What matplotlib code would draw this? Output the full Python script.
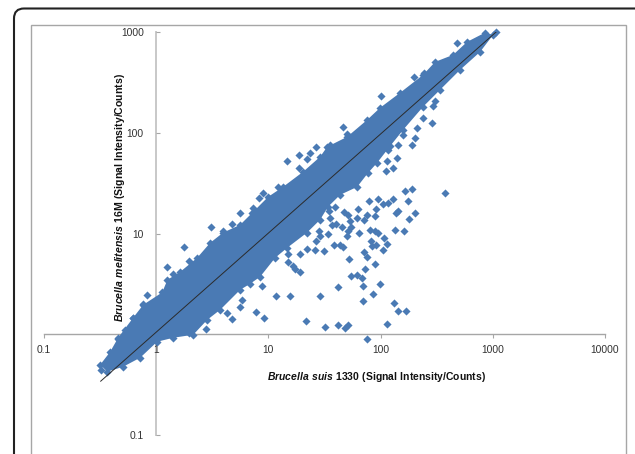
"""Brucella suis vs B. melitensis signal intensity scatter, log-log axes crossing at 1."""
import matplotlib
matplotlib.use("Agg")
import matplotlib.pyplot as plt
from matplotlib.patches import FancyBboxPatch, Rectangle

plt.rcParams["font.family"] = ["Liberation Sans", "DejaVu Sans"]
plt.rcParams["mathtext.fontset"] = "custom"
plt.rcParams["mathtext.rm"] = "Liberation Sans"
plt.rcParams["mathtext.bf"] = "Liberation Sans:bold"
plt.rcParams["mathtext.bfit"] = "Liberation Sans:italic:bold"

W, H = 635, 454
BLUE = "#4a7ab4"
TICKS = [0.1, 1, 10, 100, 1000, 10000]
TICK_LABELS = ["0.1", "1", "10", "100", "1000", "10000"]
YTICKS = [0.1, 1, 10, 100, 1000]
YTICK_LABELS = ["0.1", "1", "10", "100", "1000"]

# dense band: upper and lower edge
hi_x = [0.317, 0.389, 0.458, 0.624, 0.766, 1.13, 1.26, 1.64, 2.32, 3.03, 3.95, 5.6, 7.16, 9.95,
        13.5, 20.4, 28.9, 33.4, 50.3, 75.8, 99, 149, 239, 306, 443, 590, 853]
hi_y = [0.498, 0.67, 0.923, 1.46, 1.96, 2.6, 3.47, 4.17, 5.74, 8.09, 10.2, 12.2, 16, 23.1,
        29, 41, 57.7, 72.5, 91, 134, 177, 249, 375, 505, 593, 798, 985]
lo_x = [0.366, 0.508, 0.72, 1.02, 1.42, 2.14, 2.85, 3.72, 5.6, 6.88, 8.44, 11.5, 14.7, 22.1, 28.9,
        34, 43.6, 61.8, 77.4, 93, 122, 159, 239, 339, 511, 770, 1005]
lo_y = [0.425, 0.476, 0.585, 0.843, 0.923, 0.989, 1.39, 1.75, 2.76, 3.17, 3.72, 5.74, 7.21, 10.2, 13.7,
        18.4, 24.2, 29, 40, 50.2, 74, 107, 181, 267, 421, 634, 935]

# points that stand apart from the band
out_x = [189, 165, 175, 204, 179, 134, 160, 142, 136, 108, 115, 106, 89, 73, 76, 71, 83, 91,
         81, 89, 94, 82, 64, 71, 76, 89, 91, 79, 94, 104, 117, 130, 55, 62, 68, 70, 99, 85,
         70, 131, 142, 170, 114, 75, 51, 48, 42, 32, 21.5, 9.2, 7.7, 11.6, 15.7, 28.7, 42, 52,
         38.5, 43.5, 46, 31, 26, 22, 19.3, 14.9, 15.1, 16.5, 17.3, 19.3, 8.7, 5.8, 26.4, 28.9,
         33.8, 28.3, 49.9, 55, 51.6, 63, 62, 51.6, 47.5, 39, 34.8, 35.5, 36.7, 39.8, 45, 53.5,
         376, 0.32, 0.766, 0.62, 0.46, 0.53, 2.79, 1.97, 4.75, 5.6, 4.3,
         1.78, 1.25, 0.83, 1.42, 1.97, 3.09, 3.95, 4.75, 5.6, 7.31, 8.27, 8.98, 12.2,
         14.7, 18.8, 23.5, 26.6, 22.1, 18.8, 101, 46.3, 50.3, 35.5,
         211, 203, 191, 159, 143, 117, 140, 114, 129, 112,
         481, 199, 244, 306, 294, 239, 288, 1071]
out_y = [27.5, 26.3, 21.1, 15.8, 14.0, 10.9, 10.7, 16.9, 15.9, 9.0, 7.9, 6.8, 5.0, 4.47, 5.83,
         6.6, 7.55, 7.7, 10.9, 10.5, 10.1, 8.5, 10.1, 13.7, 15.3, 14.8, 17.6, 20.8, 22.1, 19.5,
         20, 21.9, 3.75, 3.89, 3.61, 2.98, 3.15, 2.51, 2.12, 2.02, 1.72, 1.72, 1.26, 0.90, 1.24,
         1.15, 1.24, 1.17, 1.34, 1.45, 1.65, 2.41, 2.41, 2.37, 2.94, 5.57, 7.67, 7.7, 7.33,
         6.64, 6.8, 7.05, 6.24, 6.28, 5.2, 4.71, 4.44, 4.17, 3.03, 2.2, 8.47, 9.35, 9.86, 10.6,
         9.5, 11.6, 10.6, 17.5, 14.2, 15.3, 16.3, 18.5, 16.9, 14.2, 12.2, 12.4, 11.5, 13.2,
         25.3, 0.445, 2.0, 1.46, 0.90, 1.11, 1.13, 1.03, 1.43, 1.87, 1.63,
         7.38, 4.67, 2.47, 3.98, 5.36, 11.6, 10.6, 12.5, 16, 18, 22.6, 25.3, 29,
         52.6, 60.4, 63.2, 72.5, 55, 44.9, 232, 114, 97.5, 75.9,
         112, 89, 75.9, 95, 75.9, 67.6, 56.4, 52.6, 44.9, 41.9,
         780, 359, 393, 207, 185, 141, 125, 1000]

fit_x = [0.32, 1070]
fit_y = [0.342, 1000]

fig = plt.figure(figsize=(W / 100, H / 100), dpi=100)

# page frame, in pixel units
bg = fig.add_axes([0, 0, 1, 1], zorder=0)
bg.set_xlim(0, W)
bg.set_ylim(H, 0)
bg.axis("off")
bg.add_patch(FancyBboxPatch((14, 8.5), 660, 500, boxstyle="round,pad=0,rounding_size=10",
                            fc="white", ec="#222222", lw=1.5))
bg.add_patch(Rectangle((30.5, 24.5), 595, 460, fc="white", ec="#a6a6a6", lw=1))

ax = fig.add_axes([44 / W, 1 - 435 / H, (605 - 44) / W, (435 - 32) / H], zorder=1)
ax.patch.set_visible(False)
ax.set_xscale("log")
ax.set_yscale("log")
ax.set_xlim(0.1, 10000)
ax.set_ylim(0.1, 1000)

ax.fill(hi_x + lo_x[::-1], hi_y + lo_y[::-1], color=BLUE, lw=0, zorder=2, clip_on=False)
for xs, ys in [(hi_x, hi_y), (lo_x, lo_y), (out_x, out_y)]:
    ax.scatter(xs, ys, s=17, marker="D", color=BLUE, lw=0, zorder=2, clip_on=False)
ax.plot(fit_x, fit_y, color="#2b2b2b", lw=0.7, zorder=3)

ax.spines["top"].set_visible(False)
ax.spines["right"].set_visible(False)
ax.spines["left"].set_position(("data", 1))
ax.spines["bottom"].set_position(("data", 1))
ax.spines["left"].set_color("#c8c8c8")
ax.spines["left"].set_linewidth(1.4)
ax.spines["bottom"].set_color("#a6a6a6")
ax.spines["bottom"].set_linewidth(1)
ax.spines["left"].set_zorder(1)
ax.spines["bottom"].set_zorder(1)

ax.set_xticks(TICKS)
ax.set_xticklabels(TICK_LABELS)
ax.set_yticks(YTICKS)
ax.set_yticklabels(YTICK_LABELS)
ax.minorticks_off()
ax.tick_params(axis="x", direction="out", length=3, width=0.8, color="#a6a6a6",
               labelsize=7.4, labelcolor="#333333", pad=5)
ax.tick_params(axis="y", direction="in", length=3, width=0.8, color="#a6a6a6",
               labelsize=7.4, labelcolor="#333333", pad=9)

fig.text(376 / W, 1 - 377 / H,
         r"$\mathbfit{Brucella\ suis}\ \mathbf{1330\ (Signal\ Intensity/Counts)}$",
         ha="center", va="center", fontsize=7.45, color="#111111", zorder=5)
fig.text(120 / W, 1 - 198 / H,
         r"$\mathbfit{Brucella\ melitensis}\ \mathbf{16M\ (Signal\ Intensity/Counts)}$",
         ha="center", va="center", rotation=90, fontsize=7.6, color="#111111", zorder=5)

fig.savefig("out.png", dpi=100)
